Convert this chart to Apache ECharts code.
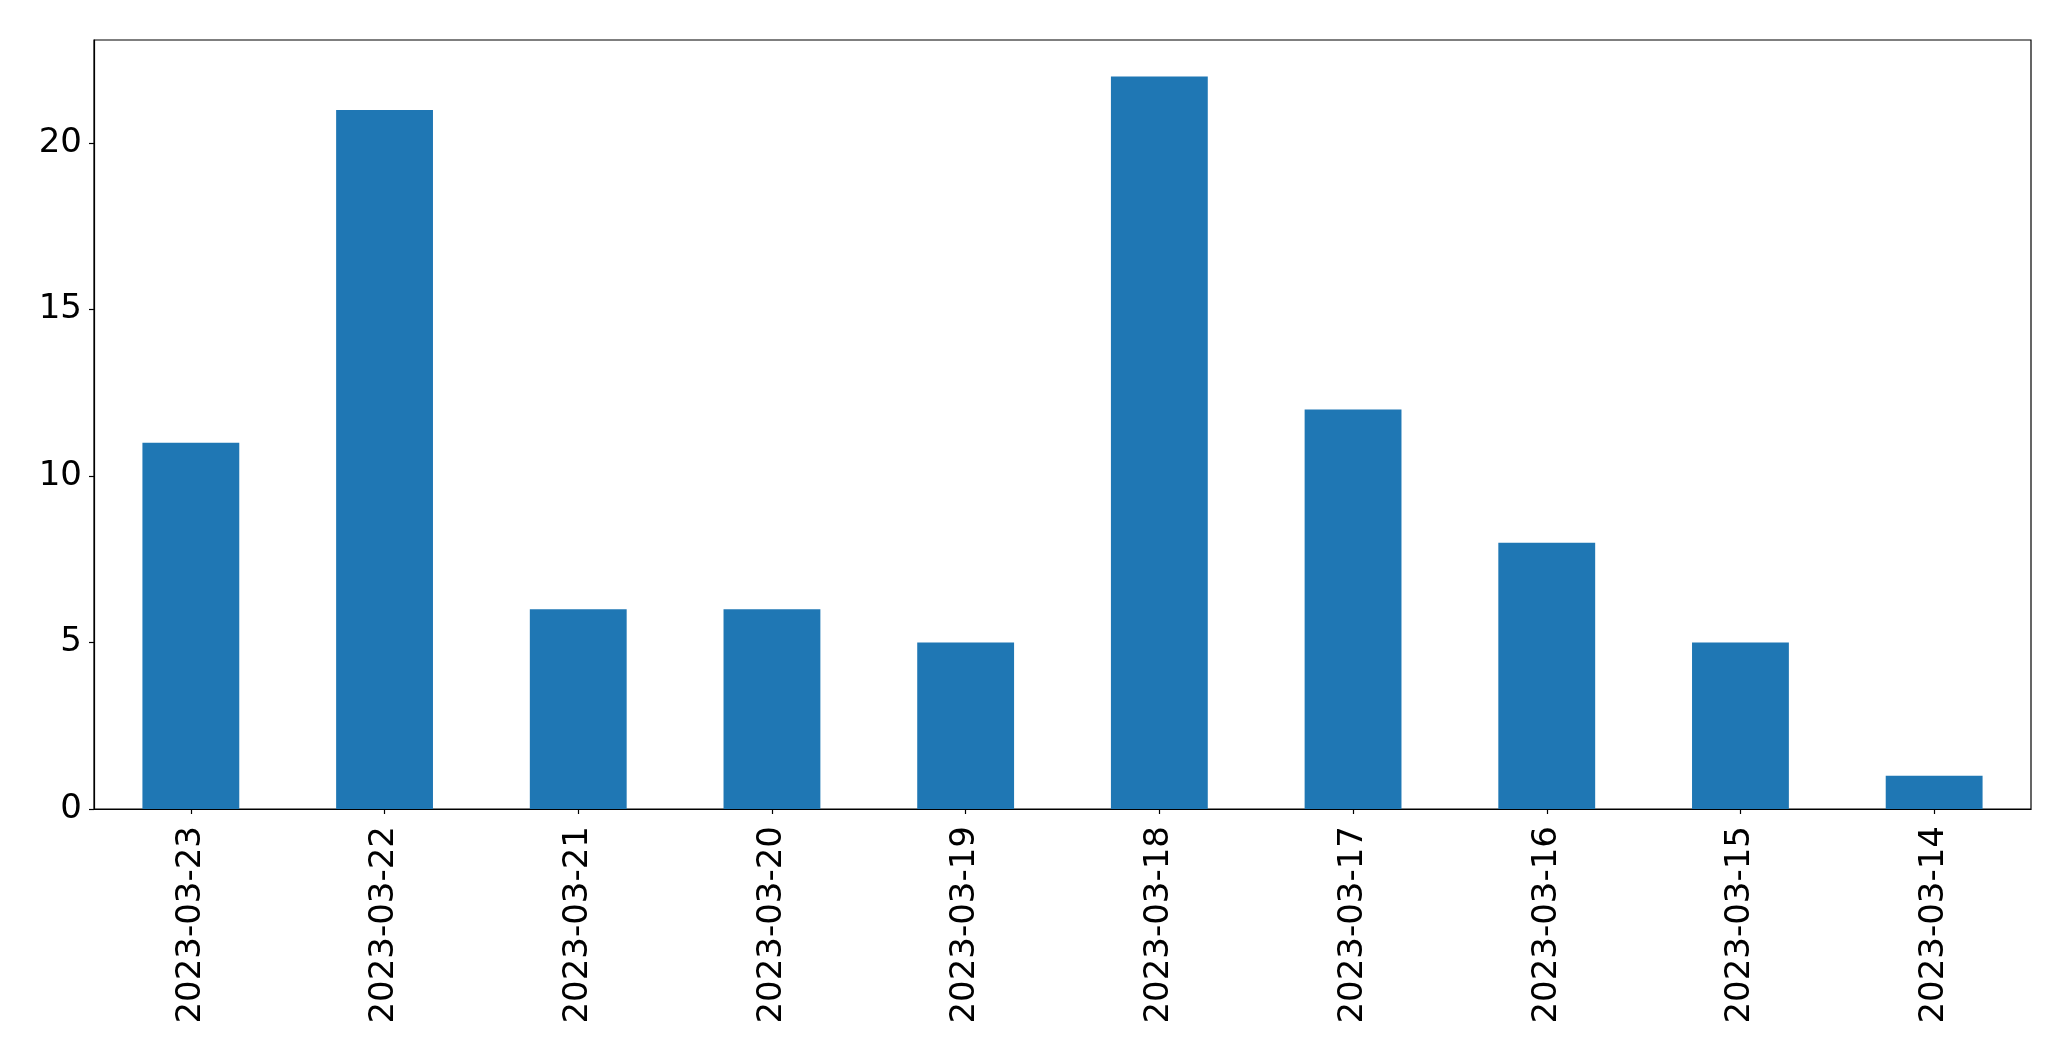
<!DOCTYPE html>
<html>
<head>
<meta charset="utf-8">
<script src="https://cdn.jsdelivr.net/npm/echarts@6/dist/echarts.min.js"></script>
<style>
html,body{margin:0;padding:0;background:#fff;}
#chart{width:2071px;height:1061px;}
</style>
</head>
<body>
<div id="chart"></div>
<script>
const categories = ["2023-03-23","2023-03-22","2023-03-21","2023-03-20","2023-03-19","2023-03-18","2023-03-17","2023-03-16","2023-03-15","2023-03-14"];
const counts = [11, 21, 6, 6, 5, 22, 12, 8, 5, 1];
const yTicks = [0, 5, 10, 15, 20];

const chart = echarts.init(document.getElementById('chart'), null, {renderer: 'canvas'});
const font = 'DejaVu Sans';
chart.setOption({
  animation: false,
  backgroundColor: '#ffffff',
  grid: {
    left: 94, top: 40, right: 40, bottom: 252,
    show: true, borderColor: '#000000', borderWidth: 1.2,
    containLabel: false
  },
  xAxis: {
    type: 'category',
    data: categories,
    boundaryGap: true,
    axisLine: {show: true, lineStyle: {color: '#000', width: 1.2}},
    axisTick: {show: true, alignWithLabel: true, length: 5, lineStyle: {color: '#000', width: 1.2}},
    axisLabel: {rotate: 90, margin: 17, fontFamily: font, fontSize: 34, color: '#000', interval: 0},
    splitLine: {show: false}
  },
  yAxis: {
    type: 'value',
    min: 0, max: 23.1, interval: 5,
    axisLine: {show: true, lineStyle: {color: '#000', width: 1.2}},
    axisTick: {show: true, length: 5, lineStyle: {color: '#000', width: 1.2}},
    axisLabel: {
      showMaxLabel: false, margin: 12, fontFamily: font, fontSize: 34, color: '#000',
      formatter: function (v) { return yTicks.indexOf(v) >= 0 ? String(v) : ''; }
    },
    splitLine: {show: false}
  },
  series: [{
    type: 'bar',
    data: counts,
    barWidth: '50%',
    itemStyle: {color: '#1f77b4'}
  }]
});
</script>
</body>
</html>
